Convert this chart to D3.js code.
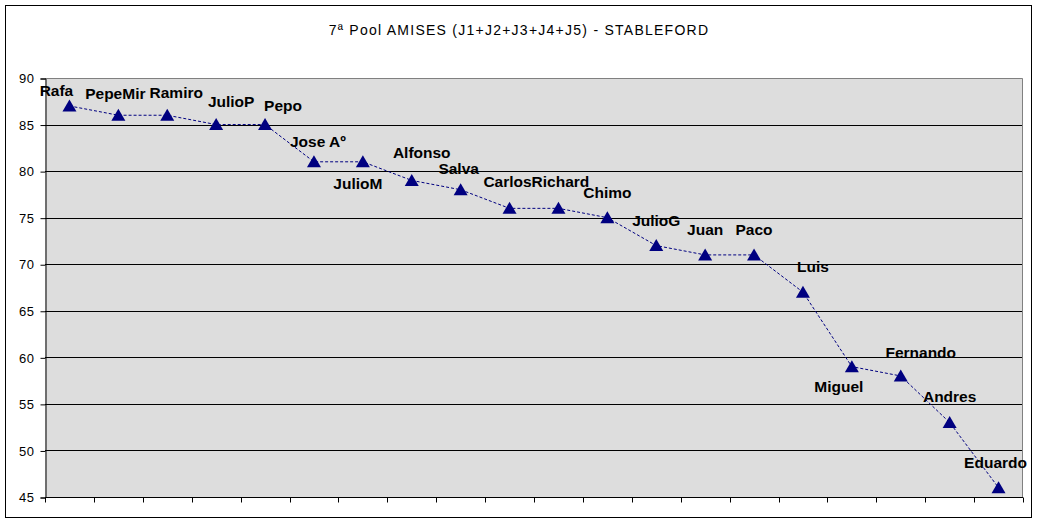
<!DOCTYPE html>
<html><head><meta charset="utf-8">
<script src="https://cdn.jsdelivr.net/npm/d3@7/dist/d3.min.js"></script>
<style>body{margin:0;background:#fff}svg{display:block}</style>
</head><body>
<script>
const categories = ["Rafa","PepeMir","Ramiro","JulioP","Pepo","Jose Aº","JulioM","Alfonso","Salva","Carlos","Richard","Chimo","JulioG","Juan","Paco","Luis","Miguel","Fernando","Andres","Eduardo"];
const values = [87,86,86,85,85,81,81,79,78,76,76,75,72,71,71,67,59,58,53,46];
const yTicks = [45,50,55,60,65,70,75,80,85,90];
// label offsets (dx, dy of baseline) relative to each point
const labelDx = [-13,-3,9,15,18,4,-5,10,-2,-2,2,0,0,0,0,10,-13,20,0,-3];
const labelDy = [-10,-16,-17,-18,-14,-15,27,-22,-16,-21,-21,-20,-20,-20,-20,-20,25,-18,-21,-20];
const title = "7ª Pool AMISES (J1+J2+J3+J4+J5) - STABLEFORD";

const W = 1038, H = 523;
const m = {left:45, right:1023, top:78, bottom:497};
const svg = d3.select("body").append("svg").attr("width",W).attr("height",H);

svg.append("rect").attr("x",5.5).attr("y",5.5).attr("width",1026).attr("height",512)
  .attr("fill","#fff").attr("stroke","#000").attr("stroke-width",1);

const x = d3.scaleBand().domain(categories).range([m.left,m.right]);
const y = d3.scaleLinear().domain([45,90]).range([m.bottom,m.top]);

svg.append("rect").attr("x",m.left).attr("y",m.top).attr("width",m.right-m.left).attr("height",m.bottom-m.top)
  .attr("fill","#dddddd");

// gridlines
svg.append("g").selectAll("line").data(yTicks.filter(t=>t>45 && t<90)).join("line")
  .attr("x1",m.left).attr("x2",m.right)
  .attr("y1",d=>Math.round(y(d))+0.5).attr("y2",d=>Math.round(y(d))+0.5)
  .attr("stroke","#000").attr("stroke-width",1);

// top & right border gray
svg.append("path").attr("d",`M${m.left},${m.top+0.5}H${m.right-0.5}V${m.bottom}`)
  .attr("fill","none").attr("stroke","#808080");

// y axis
const yAxis = d3.axisLeft(y).tickValues(yTicks).tickSize(5).tickPadding(6);
const gy = svg.append("g").attr("transform",`translate(${m.left+0.5},0.5)`).call(yAxis);
gy.selectAll("text").attr("font-family","Arial, Liberation Sans, sans-serif").attr("font-size","13px")
  .attr("letter-spacing","0.5px").attr("fill","#000");
gy.select(".domain").attr("stroke","#000");

// x axis with ticks at band boundaries
const xAxis = d3.axisBottom(x).tickSize(0).tickFormat("");
const gx = svg.append("g").attr("transform",`translate(0,${m.bottom+0.5})`).call(xAxis);
gx.select(".domain").attr("stroke","#000").attr("d",`M${m.left},0H${m.right}`);
const bounds = categories.map(c=>x(c)).concat([m.right]);
gx.selectAll("line.bt").data(bounds).join("line").attr("class","bt")
  .attr("x1",d=>Math.round(d)+0.5).attr("x2",d=>Math.round(d)+0.5)
  .attr("y1",0).attr("y2",5).attr("stroke","#000");

// line
const cx = c=>x(c)+x.bandwidth()/2;
const line = d3.line().x((d,i)=>cx(categories[i])).y(d=>y(d));
svg.append("path").datum(values).attr("d",line).attr("fill","none")
  .attr("stroke","#000080").attr("stroke-width",1).attr("stroke-dasharray","3,2");

// markers
svg.append("g").selectAll("path").data(values).join("path")
  .attr("transform",(d,i)=>`translate(${cx(categories[i])},${y(d)})`)
  .attr("d","M0,-6.5L7,5.5L-7,5.5Z").attr("fill","#000080");

// labels
svg.append("g").selectAll("text").data(values).join("text")
  .attr("x",(d,i)=>cx(categories[i])+labelDx[i]).attr("y",(d,i)=>y(d)+labelDy[i])
  .attr("text-anchor","middle").attr("font-family","Arial, Liberation Sans, sans-serif")
  .attr("font-size","15.5px").attr("font-weight","bold").attr("fill","#000")
  .text((d,i)=>categories[i]);

svg.append("text").attr("x",519).attr("y",34.5).attr("text-anchor","middle")
  .attr("font-family","Arial, Liberation Sans, sans-serif").attr("font-size","14px")
  .attr("letter-spacing","1.25px").attr("fill","#000")
  .text(title);
</script>
</body></html>
